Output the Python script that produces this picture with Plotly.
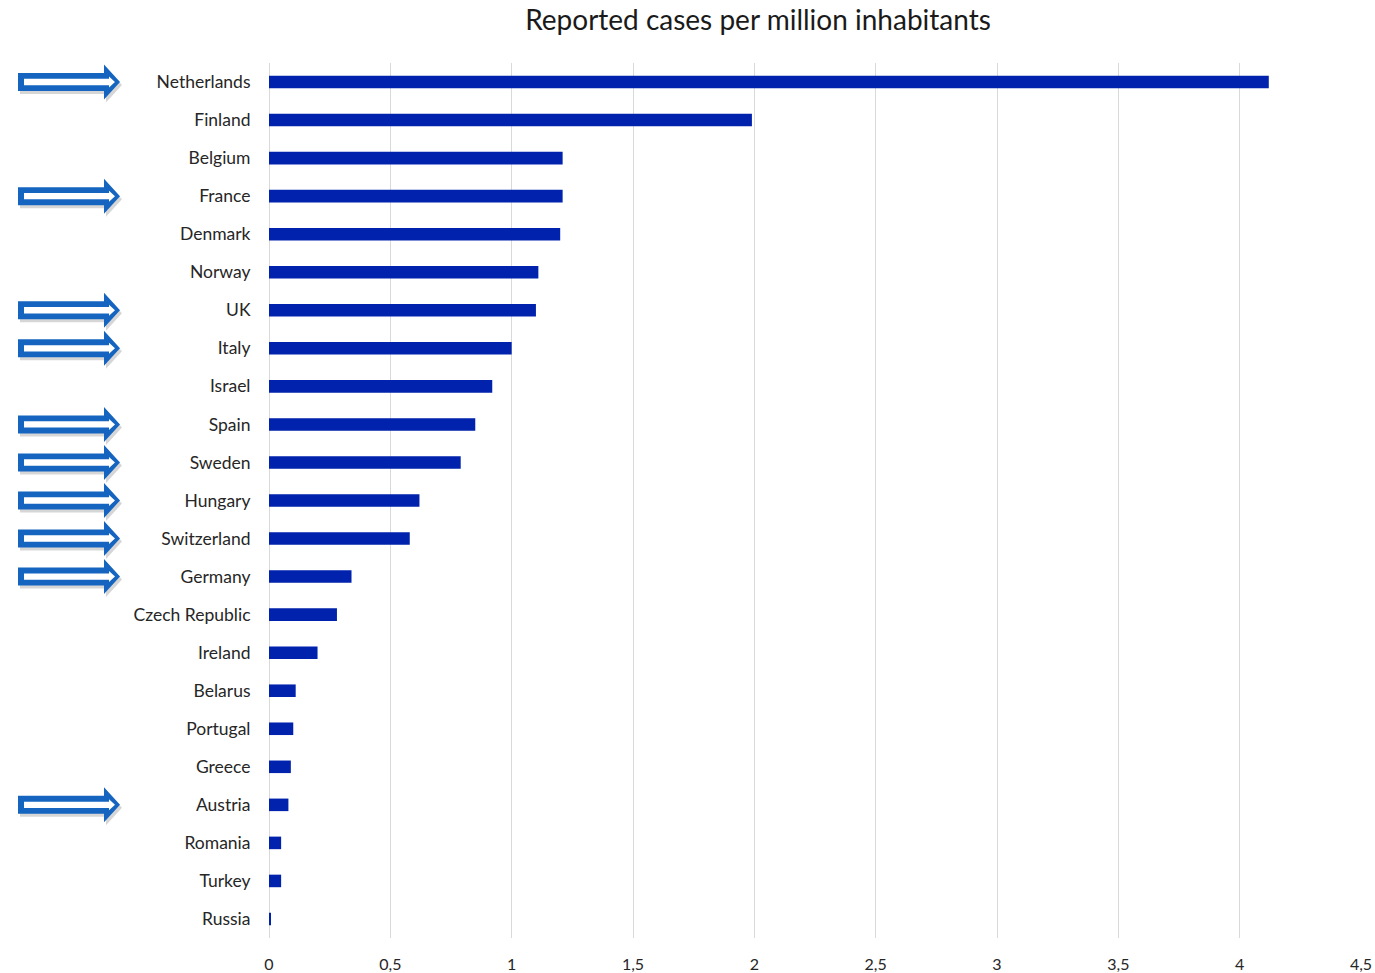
import plotly.graph_objects as go

# Reported cases per million inhabitants, by country (top to bottom)
countries = ["Netherlands", "Finland", "Belgium", "France", "Denmark", "Norway", "UK",
             "Italy", "Israel", "Spain", "Sweden", "Hungary", "Switzerland", "Germany",
             "Czech Republic", "Ireland", "Belarus", "Portugal", "Greece", "Austria",
             "Romania", "Turkey", "Russia"]
cases_per_million = [4.12, 1.99, 1.21, 1.21, 1.20, 1.11, 1.10,
                     1.00, 0.92, 0.85, 0.79, 0.62, 0.58, 0.34,
                     0.28, 0.20, 0.11, 0.10, 0.09, 0.08,
                     0.05, 0.05, 0.005]

# Countries highlighted with an arrow
highlighted = ["Netherlands", "France", "UK", "Italy", "Spain", "Sweden",
               "Hungary", "Switzerland", "Germany", "Austria"]

tick_vals = [0, 0.5, 1, 1.5, 2, 2.5, 3, 3.5, 4, 4.5]
tick_text = ["0", "0,5", "1", "1,5", "2", "2,5", "3", "3,5", "4", "4,5"]

W, H = 1375, 973
M_L, M_R, M_T, M_B = 269, 14, 63, 35
plot_w = W - M_L - M_R
plot_h = H - M_T - M_B

fig = go.Figure(go.Bar(
    x=cases_per_million,
    y=countries,
    orientation="h",
    marker=dict(color="#0022ad", line=dict(width=0)),
    hoverinfo="x+y",
))

n = len(countries)


def cat_to_paper_y(idx):
    # categories are reversed (first at top), range [-0.5, n-0.5]
    return 1 - (idx + 0.5) / n


def arrow_path(x0_px, tip_px, yc, shaft_half, head_half, head_len):
    # right-pointing block arrow; x given in pixels, half-heights in pixels
    sx = tip_px - head_len
    pts = [(x0_px, shaft_half), (sx, shaft_half), (sx, head_half), (tip_px, 0),
           (sx, -head_half), (sx, -shaft_half), (x0_px, -shaft_half)]
    coords = [((x - M_L) / plot_w, yc + dy / plot_h) for x, dy in pts]
    return "M " + " L ".join(f"{x:.5f},{y:.5f}" for x, y in coords) + " Z"


shapes = []
for name in highlighted:
    idx = countries.index(name)
    yc = cat_to_paper_y(idx)
    x_left, x_tip = 18, 120
    # soft shadow
    shapes.append(dict(type="path", xref="paper", yref="paper",
                       path=arrow_path(x_left + 2, x_tip + 2, yc - 3 / plot_h, 9, 17.5, 16),
                       fillcolor="rgba(0,0,0,0.16)", line=dict(width=0), layer="above"))
    # blue arrow body
    shapes.append(dict(type="path", xref="paper", yref="paper",
                       path=arrow_path(x_left, x_tip, yc, 9, 17.5, 16),
                       fillcolor="#1565c0", line=dict(width=0), layer="above"))
    # white interior
    shapes.append(dict(type="path", xref="paper", yref="paper",
                       path=arrow_path(x_left + 6, x_tip - 5, yc, 3.2, 5.5, 6),
                       fillcolor="white", line=dict(width=0), layer="above"))

fig.update_layout(
    width=W, height=H,
    margin=dict(l=M_L, r=M_R, t=M_T, b=M_B),
    paper_bgcolor="white", plot_bgcolor="white",
    font=dict(family="Lato, 'Open Sans', sans-serif", color="#262626", size=16),
    title=dict(text="Reported cases per million inhabitants",
               x=758 / W, xref="container", xanchor="center",
               y=1 - 20 / H, yref="container", yanchor="middle",
               font=dict(size=28, color="#1a1a1a")),
    bargap=0.67,
    showlegend=False,
    shapes=shapes,
    xaxis=dict(range=[0, 4.5], tickvals=tick_vals, ticktext=tick_text,
               automargin=False,
               showgrid=True, gridcolor="#d9d9d9", gridwidth=1,
               zeroline=True, zerolinecolor="#d9d9d9", zerolinewidth=1,
               showline=False, ticks="outside", ticklen=12,
               tickcolor="rgba(0,0,0,0)", tickfont=dict(size=16, color="#262626")),
    yaxis=dict(categoryorder="array", categoryarray=countries,
               autorange="reversed", range=[n - 0.5, -0.5], automargin=False,
               showgrid=False, zeroline=False, showline=False,
               ticks="outside", ticklen=14, tickcolor="rgba(0,0,0,0)",
               tickfont=dict(size=17.5, color="#262626")),
)

fig.write_html("out.html")
